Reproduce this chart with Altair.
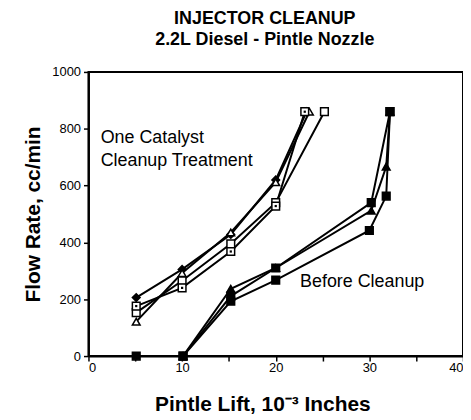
import altair as alt
import pandas as pd

# ---- data ----
cleanup_x = [5.1, 10.0, 15.2, 20.0]
diamond_y = [206, 305, 428, 620]
diamond_top_x = 23.3
triangle_y = [121, 292, 435, 612]
triangle_top_x = 23.6
square_y = [153, 265, 395, 540]
square_top_x = 25.2
dotsq_y = [176, 240, 368, 528]
dotsq_top_x = 23.1
top_y = 860

before_a_x = [5.1, 10.1, 15.2, 20.0, 30.2, 32.2]
before_a_y = [0, 0, 211, 310, 540, 860]
before_b_x = [10.1, 15.2, 20.0, 30.2, 31.8, 32.2]
before_b_y = [0, 237, 310, 512, 667, 860]
before_c_x = [10.1, 15.2, 20.0, 30.0, 31.8, 32.2]
before_c_y = [0, 193, 267, 442, 563, 860]

rows = []
def add(name, xs, ys):
    for i, (a, b) in enumerate(zip(xs, ys)):
        rows.append({"series": name, "x": a, "y": b, "i": i})

add("A diamond", cleanup_x + [diamond_top_x], diamond_y + [top_y])
add("B triangle", cleanup_x + [triangle_top_x], triangle_y + [top_y])
add("C square", cleanup_x + [square_top_x], square_y + [top_y])
add("D dotsq", cleanup_x + [dotsq_top_x], dotsq_y + [top_y])
add("E before sq", before_a_x, before_a_y)
add("F before tri", before_b_x, before_b_y)
add("G before sq2", before_c_x, before_c_y)
df = pd.DataFrame(rows)

series_order = ["A diamond", "B triangle", "C square", "D dotsq",
                "E before sq", "F before tri", "G before sq2"]
shapes = ["diamond", "triangle-up", "square", "square",
          "square", "triangle-up", "square"]
fills = ["black", "white", "white", "white", "black", "black", "black"]

xscale = alt.Scale(domain=[0, 40], nice=False, zero=False)
yscale = alt.Scale(domain=[0, 1000], nice=False)

x_ticks = list(range(0, 41, 5))
y_ticks = list(range(0, 1001, 100))

X = alt.X("x:Q", scale=xscale,
          axis=alt.Axis(values=x_ticks, labelExpr="datum.value % 10 == 0 ? datum.label : ''",
                        grid=False, title="Pintle Lift, 10⁻³ Inches", labelPadding=1,
                        titleX=175, titleY=55, titleBaseline="alphabetic",
                        titleFontSize=21, titleFontWeight="bold"))
Y = alt.Y("y:Q", scale=yscale,
          axis=alt.Axis(values=y_ticks, labelExpr="datum.value % 200 == 0 ? datum.label : ''",
                        grid=False, title="Flow Rate, cc/min", format="d",
                        titleX=-45, titleFontSize=21, titleFontWeight="bold"))

base = alt.Chart(df)
lines = base.mark_line(color="black", strokeWidth=2).encode(
    x=X, y=Y, detail="series:N", order="i:Q")
points = base.mark_point(size=60, strokeWidth=1.5, stroke="black", opacity=1).encode(
    x="x:Q", y="y:Q",
    shape=alt.Shape("series:N", scale=alt.Scale(domain=series_order, range=shapes), legend=None),
    fill=alt.Fill("series:N", scale=alt.Scale(domain=series_order, range=fills), legend=None))
dots = base.transform_filter(alt.datum.series == "D dotsq").mark_point(
    shape="square", size=5, filled=True, color="black", opacity=1).encode(x="x:Q", y="y:Q")

label_df = pd.DataFrame({"x": [1.3, 22.6], "y": [768, 259],
                         "t": ["One Catalyst\nCleanup Treatment", "Before Cleanup"]})
labels = alt.Chart(label_df).mark_text(align="left", baseline="middle", fontSize=18,
                                       lineBreak="\n", lineHeight=23, color="black"
                                       ).encode(x="x:Q", y="y:Q", text="t:N")

chart = alt.layer(lines, points, dots, labels).properties(
    width=377, height=286,
    title=alt.TitleParams(["INJECTOR CLEANUP", "2.2L Diesel - Pintle Nozzle"],
                          fontSize=18, fontWeight="bold", lineHeight=21,
                          offset=17, dx=-11, anchor="middle", color="black"),
    padding={"left": 81, "top": 63, "right": 0, "bottom": 63},
    autosize="none",
).configure(font="Liberation Sans").configure_view(
    stroke="black", strokeWidth=2
).configure_axis(
    domainColor="black", domainWidth=2, tickColor="black", tickWidth=1.5, tickSize=5,
    labelColor="black", labelFontSize=13, titleColor="black", labelPadding=3
)

chart.save("out.html", embed_options={"renderer": "svg", "actions": False})
